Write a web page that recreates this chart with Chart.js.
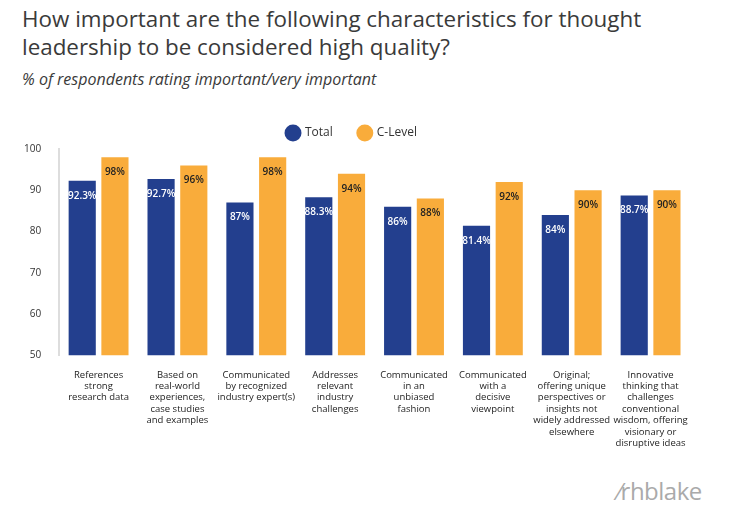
<!DOCTYPE html>
<html><head><meta charset="utf-8">
<script src="https://cdn.jsdelivr.net/npm/chart.js@4"></script>
<style>
body{margin:0;background:#fff;font-family:"Open Sans",sans-serif;}
#t{position:absolute;left:22px;top:5px;font-size:22.4px;line-height:28px;color:#3a3a3a;font-family:"Open Sans";}
#s{position:absolute;left:22px;top:68px;font-size:16px;font-style:italic;color:#3a3a3a;}
#logo{position:absolute;left:618px;top:474px;font-size:24px;color:#aaa;font-family:"Open Sans";letter-spacing:-0.5px}
#w{position:absolute;left:0;top:89px;width:730px;height:366px;}
</style></head><body>
<div id="t">How important are the following characteristics for thought<br>leadership to be considered high quality?</div>
<div id="s">% of respondents rating important/very important</div>
<div id="w"><canvas id="c"></canvas></div>
<div id="logo">⁄rhblake</div>
<script>
const categories=[["References","strong","research data"],["Based on","real-world","experiences,","case studies","and examples"],["Communicated","by recognized","industry expert(s)"],["Addresses","relevant","industry","challenges"],["Communicated","in an","unbiased","fashion"],["Communicated","with a","decisive","viewpoint"],["Original;","offering unique","perspectives or","insights not","widely addressed","elsewhere"],["Innovative","thinking that","challenges","conventional","wisdom, offering","visionary or","disruptive ideas"]];
const totalValues=[92.3,92.7,87,88.3,86,81.4,84,88.7];
const totalLabels=["92.3%","92.7%","87%","88.3%","86%","81.4%","84%","88.7%"];
const clevelValues=[98,96,98,94,88,92,90,90];
const clevelLabels=["98%","96%","98%","94%","88%","92%","90%","90%"];
const yTicks=[50,60,70,80,90,100];
const labelPlugin={id:'lp',afterDatasetsDraw(ch){const c=ch.ctx;c.save();c.font='600 10px "Open Sans"';c.textAlign='center';c.textBaseline='top';
ch.data.datasets.forEach((ds,i)=>{const m=ch.getDatasetMeta(i);m.data.forEach((b,j)=>{c.fillStyle=i==0?'#fff':'#222';c.fillText(ds.lbl[j],b.x,b.y+10);});});c.restore();}};
new Chart(document.getElementById('c'),{type:'bar',
data:{labels:categories,datasets:[
{label:'Total',data:totalValues,lbl:totalLabels,backgroundColor:'#233f8e'},
{label:'C-Level',data:clevelValues,lbl:clevelLabels,backgroundColor:'#f9ac3b'}]},
options:{responsive:true,maintainAspectRatio:false,animation:false,
layout:{padding:{left:14,right:40,top:12}},
datasets:{bar:{barPercentage:0.83,categoryPercentage:0.83}},
plugins:{legend:{labels:{usePointStyle:true,pointStyle:'circle',boxWidth:13,boxHeight:13,color:'#333',font:{size:12,family:'"Open Sans"'},padding:26},onClick:null},tooltip:{enabled:false}},
scales:{y:{min:50,max:100,afterBuildTicks(s){s.ticks=yTicks.map(v=>({value:v}));},grid:{display:false},border:{color:'#ddd',width:2},ticks:{color:'#333',font:{size:10,family:'"Open Sans"'},padding:10}},
x:{grid:{display:false},border:{display:false},ticks:{color:'#222',font:{size:9.5,family:'"Open Sans"',lineHeight:1.2},maxRotation:0,autoSkip:false,padding:6}}}},
plugins:[labelPlugin]});
</script></body></html>
